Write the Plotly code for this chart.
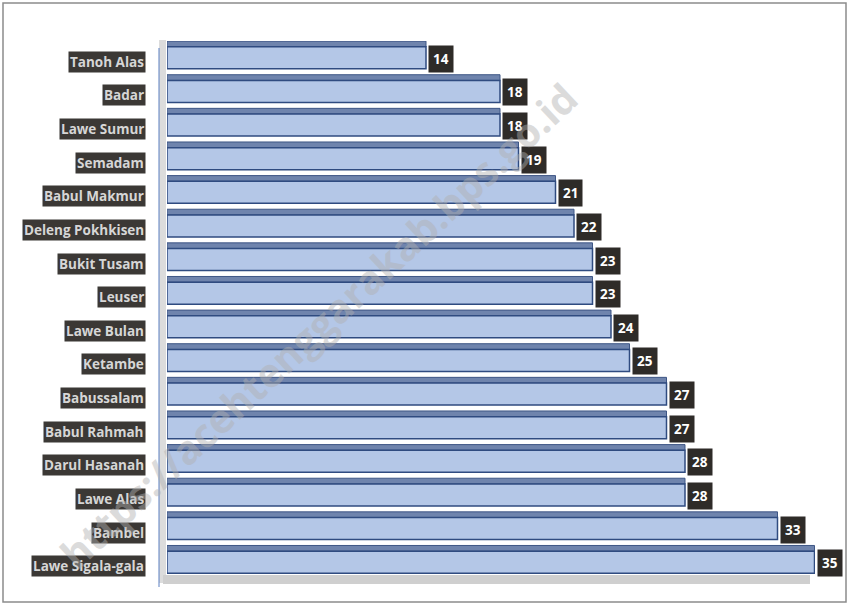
import plotly.graph_objects as go

categories = ["Tanoh Alas", "Badar", "Lawe Sumur", "Semadam", "Babul Makmur",
              "Deleng Pokhkisen", "Bukit Tusam", "Leuser", "Lawe Bulan", "Ketambe",
              "Babussalam", "Babul Rahmah", "Darul Hasanah", "Lawe Alas", "Bambel",
              "Lawe Sigala-gala"]
values = [14, 18, 18, 19, 21, 22, 23, 23, 24, 25, 27, 27, 28, 28, 33, 35]
watermark = "https://acehtenggarakab.bps.go.id"

W, H = 849, 604
L, R, T, B = 167, 34, 41, 25
pw, ph = W - L - R, H - T - B

def px(x):
    return (x - L) / pw

def py(y):
    return 1 - (y - T) / ph

FACE_W = 0.654
TOP_W = 0.17

fig = go.Figure()
# top face (3D look)
fig.add_trace(go.Bar(
    y=categories, x=values, orientation="h", width=TOP_W, offset=-FACE_W / 2 - TOP_W,
    marker=dict(color="#6f84ad", line=dict(color="#3e5685", width=1)),
    hoverinfo="skip", showlegend=False))
# front face
fig.add_trace(go.Bar(
    y=categories, x=values, orientation="h", width=FACE_W, offset=-FACE_W / 2,
    marker=dict(color="#b4c7e7", line=dict(color="#2f4b80", width=1.5)),
    showlegend=False))

for c, v in zip(categories, values):
    fig.add_annotation(x=v, y=c, xref="x", yref="y", text="<b>%d</b>" % v,
                       showarrow=False, xanchor="left", xshift=2, yshift=-1,
                       bgcolor="#2e2b28", borderpad=4,
                       font=dict(family="Open Sans", size=13.5, color="white"))
    fig.add_annotation(x=0, y=c, xref="paper", yref="y", text="<b>%s</b>" % c,
                       showarrow=False, xanchor="right", xshift=-21, yshift=-4,
                       bgcolor="#3b3835", borderpad=1,
                       font=dict(family="Open Sans", size=13.5, color="#d6d6d6"))

# outer border
fig.add_shape(type="rect", xref="paper", yref="paper", x0=px(3), x1=px(846),
              y0=py(602), y1=py(3), line=dict(color="#8c8c8c", width=1.5),
              layer="below")
# left wall
fig.add_shape(type="rect", xref="paper", yref="paper", x0=px(159), x1=px(166),
              y0=py(583), y1=py(40), fillcolor="#dcdcdc", line=dict(width=0),
              layer="below")
fig.add_shape(type="line", xref="paper", yref="paper", x0=px(159), x1=px(159),
              y0=py(587), y1=py(48), line=dict(color="#5b7fc0", width=1),
              layer="below")
# floor shadow
fig.add_shape(type="rect", xref="paper", yref="paper", x0=px(163), x1=px(810),
              y0=py(584), y1=py(575), fillcolor="#cfcfcf", line=dict(width=0),
              layer="below")

fig.add_annotation(xref="paper", yref="paper", x=px(318), y=py(325),
                   xanchor="center", yanchor="middle",
                   text="<b>%s</b>" % watermark, showarrow=False, textangle=-43,
                   font=dict(family="Open Sans", size=40, color="#b0b0b0"),
                   opacity=0.45)

fig.update_layout(
    width=W, height=H, margin=dict(l=L, r=R, t=T, b=B),
    paper_bgcolor="white", plot_bgcolor="white", barmode="overlay",
    xaxis=dict(range=[0, pw / 18.5], visible=False),
    yaxis=dict(autorange="reversed", showticklabels=False, showgrid=False,
               zeroline=False, showline=False, ticks=""),
)
fig.write_html("out.html", post_script="document.body.style.margin='0';",
               config={"displayModeBar": False})
